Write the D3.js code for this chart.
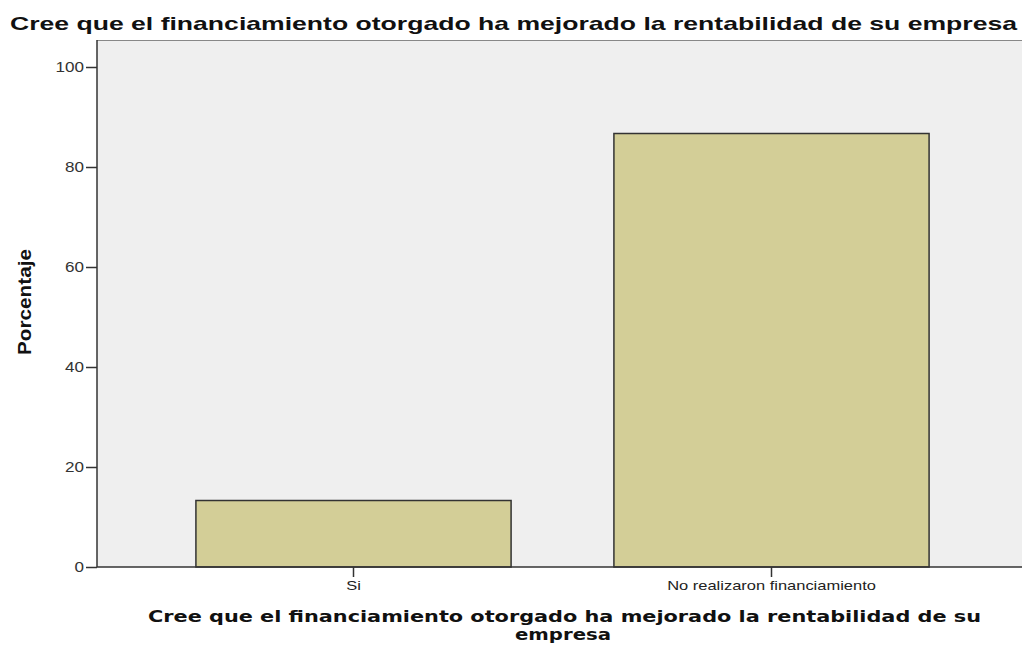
<!DOCTYPE html>
<html>
<head>
<meta charset="utf-8">
<script src="https://cdn.jsdelivr.net/npm/d3@7"></script>
<style>
  body { margin: 0; background: #fff; }
  svg { display: block; }
</style>
</head>
<body>
<svg id="chart" width="1022" height="646"></svg>
<script>
const categories = ["Si", "No realizaron financiamiento"];
const percentages = [13.3, 86.7];
const yTicks = [0, 20, 40, 60, 80, 100];

const title = "Cree que el financiamiento otorgado ha mejorado la rentabilidad de su empresa";
const xTitle = ["Cree que el financiamiento otorgado ha mejorado la rentabilidad de su", "empresa"];
const yTitle = "Porcentaje";

const svg = d3.select("#chart");

const plot = { left: 97, right: 1030, top: 40, bottom: 567 };

const x = d3.scaleBand()
  .domain(categories)
  .range([144.5, 980.5])
  .paddingInner(0.246)
  .paddingOuter(0.123);

const y = d3.scaleLinear()
  .domain([0, 100])
  .range([567, 67]);

// the labels in the picture are drawn wider than the font
const widen = function () {
  const w = this.getComputedTextLength();
  d3.select(this)
    .attr("textLength", w * 1.22)
    .attr("lengthAdjust", "spacingAndGlyphs");
};

// plot background
svg.append("rect")
  .attr("x", plot.left)
  .attr("y", plot.top)
  .attr("width", plot.right - plot.left)
  .attr("height", plot.bottom - plot.top)
  .attr("fill", "#efefef");

svg.append("line")
  .attr("x1", plot.left).attr("x2", plot.right)
  .attr("y1", plot.top + 0.5).attr("y2", plot.top + 0.5)
  .attr("stroke", "#888");

// bars
svg.selectAll(".bar")
  .data(categories)
  .enter()
  .append("rect")
  .attr("class", "bar")
  .attr("x", d => x(d))
  .attr("y", (d, i) => y(percentages[i]))
  .attr("width", x.bandwidth())
  .attr("height", (d, i) => y(0) - y(percentages[i]))
  .attr("fill", "#d3ce97")
  .attr("stroke", "#333")
  .attr("stroke-width", 1.5);

// y axis
const yAxis = svg.append("g")
  .attr("transform", `translate(${plot.left},0)`)
  .call(d3.axisLeft(y).tickValues(yTicks).tickSize(11).tickPadding(2).tickSizeOuter(0));

yAxis.select(".domain")
  .attr("d", `M0,${plot.top}V${plot.bottom}`)
  .attr("stroke", "#333")
  .attr("stroke-width", 1.5);

yAxis.selectAll(".tick line").attr("stroke", "#333").attr("stroke-width", 1.5);
yAxis.selectAll(".tick text")
  .attr("fill", "#333")
  .style("font-family", "'Liberation Sans', Arial, sans-serif")
  .style("font-size", "14px")
  .each(widen);

// x axis
const xAxis = svg.append("g")
  .attr("transform", `translate(0,${plot.bottom})`)
  .call(d3.axisBottom(x).tickSize(10).tickPadding(3).tickSizeOuter(0));

xAxis.select(".domain")
  .attr("d", `M${plot.left},0H${plot.right}`)
  .attr("stroke", "#333")
  .attr("stroke-width", 1.5);

xAxis.selectAll(".tick line").attr("stroke", "#333").attr("stroke-width", 1.5);
xAxis.selectAll(".tick text")
  .attr("fill", "#222")
  .style("font-family", "'Liberation Sans', Arial, sans-serif")
  .style("font-size", "13.5px")
  .each(widen);

// titles
svg.append("text")
  .attr("x", 10)
  .attr("y", 30)
  .attr("textLength", 1007)
  .attr("lengthAdjust", "spacingAndGlyphs")
  .style("font-family", "'Liberation Sans', Arial, sans-serif")
  .style("font-weight", "bold")
  .style("font-size", "19px")
  .attr("fill", "#111")
  .text(title);

svg.append("text")
  .attr("x", 564.5)
  .attr("y", 622)
  .attr("text-anchor", "middle")
  .attr("textLength", 833)
  .attr("lengthAdjust", "spacingAndGlyphs")
  .style("font-family", "'DejaVu Sans', sans-serif")
  .style("font-weight", "bold")
  .style("font-size", "16px")
  .attr("fill", "#111")
  .text(xTitle[0]);

svg.append("text")
  .attr("x", 563)
  .attr("y", 640)
  .attr("text-anchor", "middle")
  .attr("textLength", 96)
  .attr("lengthAdjust", "spacingAndGlyphs")
  .style("font-family", "'DejaVu Sans', sans-serif")
  .style("font-weight", "bold")
  .style("font-size", "16px")
  .attr("fill", "#111")
  .text(xTitle[1]);

svg.append("text")
  .attr("transform", "translate(31,302) rotate(-90)")
  .attr("text-anchor", "middle")
  .attr("textLength", 106)
  .attr("lengthAdjust", "spacingAndGlyphs")
  .style("font-family", "'Liberation Sans Narrow', 'Liberation Sans', Arial, sans-serif")
  .style("font-weight", "bold")
  .style("font-size", "18px")
  .attr("fill", "#111")
  .text(yTitle);
</script>
</body>
</html>
